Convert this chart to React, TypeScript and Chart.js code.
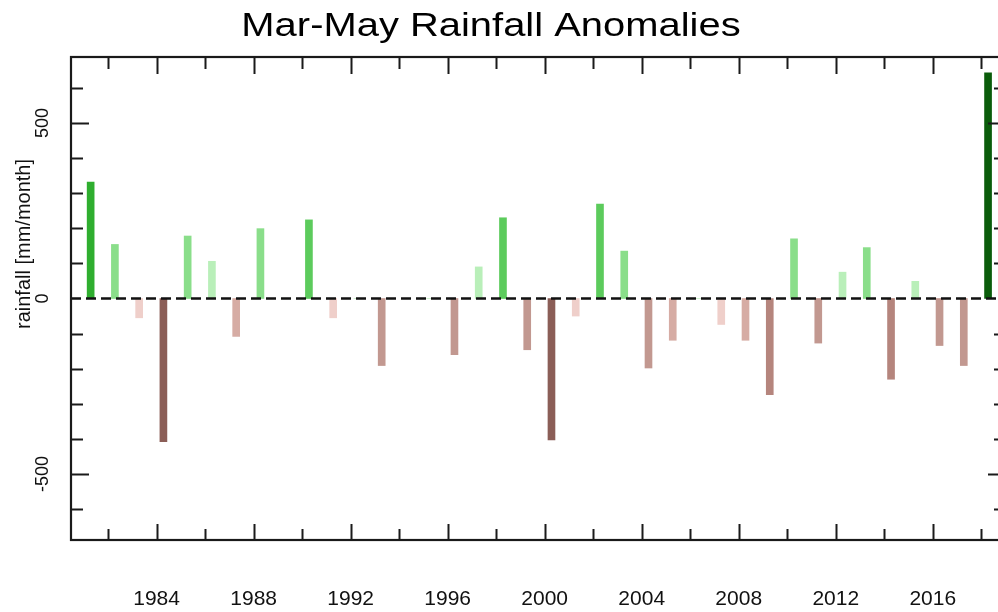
import React, { useEffect, useRef } from "react";
import { Chart, registerables } from "chart.js";

Chart.register(...registerables);

// ---- data ----
const years = [
  1981, 1982, 1983, 1984, 1985, 1986, 1987, 1988, 1989, 1990,
  1991, 1992, 1993, 1994, 1995, 1996, 1997, 1998, 1999, 2000,
  2001, 2002, 2003, 2004, 2005, 2006, 2007, 2008, 2009, 2010,
  2011, 2012, 2013, 2014, 2015, 2016, 2017, 2018,
];
const anomalies = [
  332, 154, -55, -408, 178, 106, -108, 199, 0, 224,
  -55, 0, -191, 0, 0, -160, 90, 230, -146, -403,
  -50, 269, 135, -198, -119, 0, -74, -119, -274, 170,
  -127, 75, 145, -230, 49, -134, -191, 643,
];
const xTickLabels = [1984, 1988, 1992, 1996, 2000, 2004, 2008, 2012, 2016];
const xTickMarks = [
  1982, 1984, 1986, 1988, 1990, 1992, 1994, 1996, 1998, 2000,
  2002, 2004, 2006, 2008, 2010, 2012, 2014, 2016, 2018,
];
const yTickLabels = [-500, 0, 500];
const yTickMarks = [-600, -500, -400, -300, -200, -100, 0, 100, 200, 300, 400, 500, 600];

const TITLE = "Mar-May Rainfall Anomalies";
const Y_TITLE = "rainfall [mm/month]";

// season (Mar-May) sits a bit after the start of each year
const SEASON_OFFSET = 0.28;
const X_MIN = 1980.47;
const X_MAX = 2019.02;
const Y_MIN = -688;
const Y_MAX = 688;

const FONT = "'Liberation Sans', Arial, Helvetica, sans-serif";

function colorFor(v: number): string {
  if (v >= 0) {
    if (v > 400) return "#0a5c0a";
    if (v > 300) return "#2fae2f";
    if (v > 200) return "#5ccb5c";
    if (v > 110) return "#8ade8a";
    return "#b9efb9";
  }
  if (v < -300) return "#8b5e57";
  if (v < -210) return "#b5857d";
  if (v < -125) return "#c29890";
  if (v < -90) return "#d6aca4";
  return "#efcfca";
}

const decorPlugin = {
  id: "decor",
  afterDatasetsDraw(chart: any) {
    const { ctx, chartArea: a, scales } = chart;
    const x = scales.x;
    const y = scales.y;
    ctx.save();

    // zero dashed line
    const y0 = y.getPixelForValue(0);
    ctx.setLineDash([10, 5]);
    ctx.lineWidth = 2.5;
    ctx.strokeStyle = "#111";
    ctx.beginPath();
    ctx.moveTo(a.left, y0);
    ctx.lineTo(a.right, y0);
    ctx.stroke();
    ctx.setLineDash([]);

    // frame
    ctx.lineWidth = 2.2;
    ctx.strokeStyle = "#1a1a1a";
    ctx.strokeRect(a.left, a.top, a.right - a.left, a.bottom - a.top);

    // x ticks (inward, top and bottom)
    ctx.lineWidth = 2;
    ctx.beginPath();
    for (const t of xTickMarks) {
      const px = Math.round(x.getPixelForValue(t)) + 0.5;
      const major = t % 4 === 0;
      const lb = major ? 16 : 11;
      const lt = major ? 17 : 12;
      ctx.moveTo(px, a.bottom);
      ctx.lineTo(px, a.bottom - lb);
      ctx.moveTo(px, a.top);
      ctx.lineTo(px, a.top + lt);
    }
    // y ticks (inward, left and right)
    for (const t of yTickMarks) {
      if (t === 0) continue;
      const py = Math.round(y.getPixelForValue(t)) + 0.5;
      const major = t % 500 === 0;
      const l = major ? 18 : 12;
      ctx.moveTo(a.left, py);
      ctx.lineTo(a.left + l, py);
      ctx.moveTo(a.right, py);
      ctx.lineTo(a.right - l, py);
    }
    ctx.stroke();

    // y tick labels (rotated)
    ctx.fillStyle = "#111";
    ctx.font = `18px ${FONT}`;
    ctx.textAlign = "center";
    ctx.textBaseline = "middle";
    for (const t of yTickLabels) {
      const py = y.getPixelForValue(t);
      ctx.save();
      ctx.translate(43, py);
      ctx.rotate(-Math.PI / 2);
      ctx.fillText(String(t), 0, 0);
      ctx.restore();
    }

    // y axis title
    ctx.save();
    ctx.font = `20px ${FONT}`;
    ctx.translate(24, 244);
    ctx.rotate(-Math.PI / 2);
    ctx.fillText(Y_TITLE, 0, 0);
    ctx.restore();

    // main title
    ctx.save();
    ctx.fillStyle = "#000";
    ctx.font = `33px ${FONT}`;
    ctx.textBaseline = "alphabetic";
    ctx.translate(491, 36);
    ctx.scale(1.21, 1);
    ctx.fillText(TITLE, 0, 0);
    ctx.restore();

    ctx.restore();
  },
};

export default function App() {
  const ref = useRef<HTMLCanvasElement | null>(null);

  useEffect(() => {
    if (!ref.current) return;
    const chart = new Chart(ref.current, {
      type: "bar",
      data: {
        datasets: [
          {
            data: years.map((yr, i) => ({ x: yr + SEASON_OFFSET, y: anomalies[i] })),
            backgroundColor: anomalies.map(colorFor),
            borderWidth: 0,
            barThickness: 7,
          },
        ],
      },
      options: {
        animation: false,
        responsive: false,
        events: [],
        layout: { padding: { left: 71, top: 57, right: 6, bottom: 0 } },
        plugins: {
          legend: { display: false },
          title: { display: false },
          tooltip: { enabled: false },
        },
        scales: {
          x: {
            type: "linear",
            min: X_MIN,
            max: X_MAX,
            offset: false,
            grid: { display: false, drawTicks: false },
            border: { display: false },
            afterBuildTicks: (scale: any) => {
              scale.ticks = xTickLabels.map((v) => ({ value: v }));
            },
            afterFit: (scale: any) => {
              scale.height = 72;
            },
            ticks: {
              autoSkip: false,
              maxRotation: 0,
              minRotation: 0,
              padding: 47,
              color: "#111",
              font: { family: FONT, size: 21 },
              callback: (v: any) => String(v),
            },
          },
          y: {
            type: "linear",
            min: Y_MIN,
            max: Y_MAX,
            display: false,
          },
        },
      },
      plugins: [decorPlugin],
    });
    return () => chart.destroy();
  }, []);

  return (
    <div
      style={{
        position: "fixed",
        left: 0,
        top: 0,
        width: 998,
        height: 612,
        overflow: "hidden",
        background: "#fff",
      }}
    >
      <canvas ref={ref} width={1012} height={612} style={{ display: "block" }} />
    </div>
  );
}
